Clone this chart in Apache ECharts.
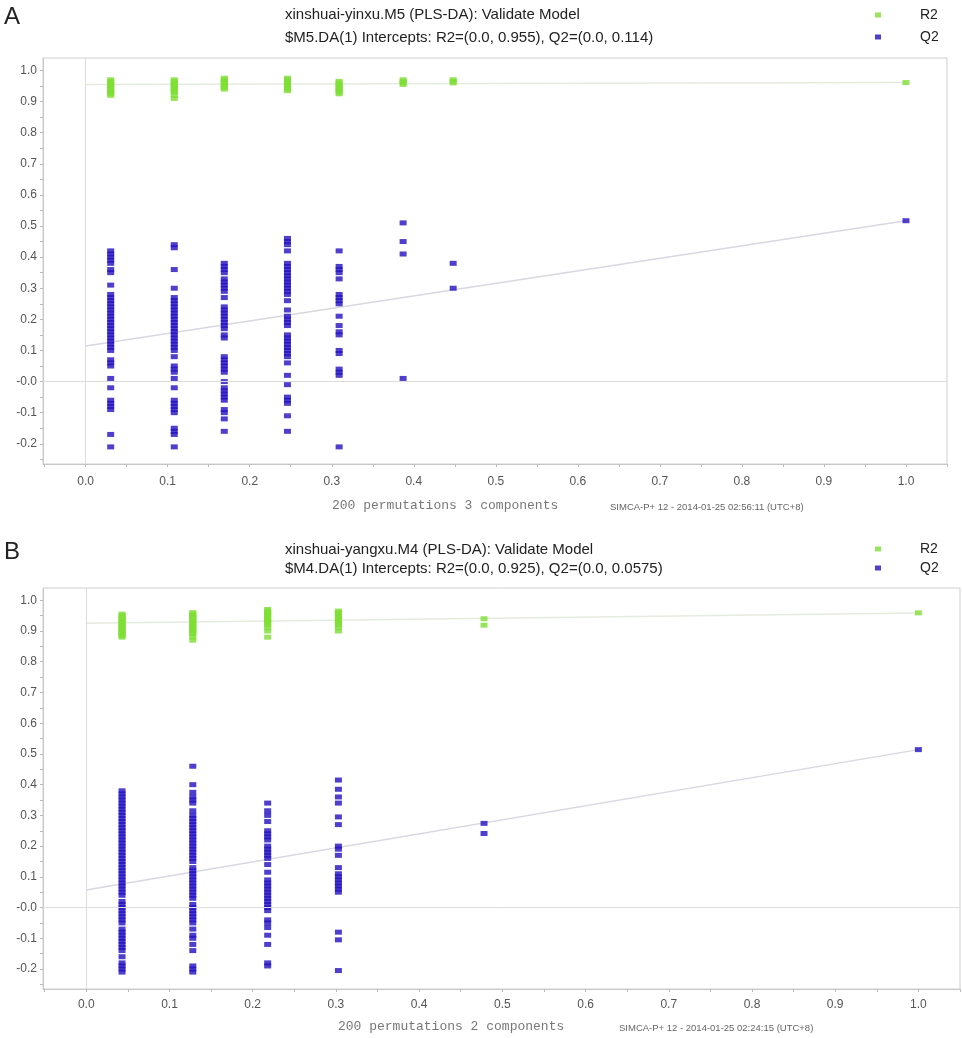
<!DOCTYPE html>
<html><head><meta charset="utf-8">
<script src="https://cdn.jsdelivr.net/npm/echarts@6/dist/echarts.min.js"></script>
<style>html,body{margin:0;padding:0;background:#fff}#c{width:962px;height:1038px}</style>
</head><body><div id="c"></div>
<script>
// ---------- tick labels ----------
const xLabelValues = [0, 0.1, 0.2, 0.3, 0.4, 0.5, 0.6, 0.7, 0.8, 0.9, 1.0];
const yLabelValues = [-0.2, -0.1, 0, 0.1, 0.2, 0.3, 0.4, 0.5, 0.6, 0.7, 0.8, 0.9, 1.0];
const xTickValues = [-0.05, 0, 0.05, 0.1, 0.15, 0.2, 0.25, 0.3, 0.35, 0.4, 0.45, 0.5, 0.55, 0.6, 0.65, 0.7, 0.75, 0.8, 0.85, 0.9, 0.95, 1.0, 1.05];
const yTickValues = [-0.25, -0.2, -0.15, -0.1, -0.05, 0, 0.05, 0.1, 0.15, 0.2, 0.25, 0.3, 0.35, 0.4, 0.45, 0.5, 0.55, 0.6, 0.65, 0.7, 0.75, 0.8, 0.85, 0.9, 0.95, 1.0];

// ---------- Panel A : xinshuai-yinxu.M5 ----------
const xA = [0.0305, 0.108, 0.169, 0.246, 0.309, 0.387, 0.448, 1.0];
const q2A = [
  [0.42,0.41,0.40,0.39,0.38,0.36,0.35,0.31,0.28,0.27,0.26,0.25,0.24,0.23,0.22,0.21,0.20,0.19,0.18,0.17,0.16,0.15,0.14,0.13,0.12,0.11,0.10,0.07,0.06,0.05,0.01,-0.02,-0.06,-0.07,-0.08,-0.09,-0.17,-0.21],
  [0.44,0.43,0.36,0.30,0.27,0.26,0.25,0.24,0.23,0.22,0.21,0.20,0.19,0.18,0.17,0.16,0.15,0.14,0.13,0.12,0.11,0.10,0.08,0.05,0.04,0.03,0.01,-0.02,-0.06,-0.07,-0.08,-0.09,-0.10,-0.15,-0.16,-0.17,-0.21],
  [0.38,0.37,0.36,0.35,0.33,0.32,0.31,0.30,0.29,0.27,0.24,0.23,0.22,0.21,0.20,0.19,0.18,0.17,0.15,0.14,0.08,0.07,0.06,0.05,0.04,0.03,0.00,-0.02,-0.03,-0.04,-0.05,-0.06,-0.09,-0.10,-0.12,-0.16],
  [0.46,0.45,0.44,0.42,0.38,0.37,0.36,0.35,0.34,0.33,0.32,0.31,0.30,0.29,0.28,0.26,0.23,0.21,0.20,0.19,0.18,0.15,0.14,0.13,0.12,0.11,0.10,0.09,0.08,0.06,0.02,-0.01,-0.05,-0.06,-0.07,-0.11,-0.16],
  [0.42,0.37,0.36,0.35,0.33,0.28,0.27,0.26,0.25,0.21,0.18,0.16,0.15,0.10,0.09,0.04,0.03,0.02,-0.21],
  [0.51,0.45,0.41,0.01],
  [0.38,0.30],
  [0.517]
];
const r2A = [
  [0.97,0.965,0.96,0.955,0.95,0.945,0.94,0.935,0.93,0.925,0.92],
  [0.97,0.965,0.96,0.955,0.95,0.945,0.94,0.935,0.93,0.92,0.91],
  [0.975,0.97,0.965,0.96,0.955,0.95,0.945,0.94],
  [0.975,0.97,0.965,0.96,0.955,0.95,0.945,0.94,0.935],
  [0.965,0.96,0.955,0.95,0.945,0.94,0.935,0.93,0.925],
  [0.97,0.965,0.96,0.955],
  [0.97,0.965,0.96],
  [0.961]
];
const interceptA = { r2: 0.955, q2: 0.114 };

// ---------- Panel B : xinshuai-yangxu.M4 ----------
const xB = [0.043, 0.128, 0.218, 0.303, 0.478, 1.0];
const q2B = [
  [0.38,0.37,0.36,0.35,0.34,0.33,0.32,0.31,0.30,0.29,0.28,0.27,0.26,0.25,0.24,0.23,0.22,0.21,0.20,0.19,0.18,0.17,0.16,0.15,0.14,0.13,0.12,0.11,0.10,0.09,0.08,0.07,0.06,0.05,0.04,0.02,0.01,0.00,-0.01,-0.02,-0.03,-0.04,-0.05,-0.07,-0.08,-0.09,-0.10,-0.11,-0.12,-0.13,-0.14,-0.16,-0.18,-0.19,-0.20,-0.21],
  [0.46,0.40,0.375,0.36,0.35,0.34,0.315,0.30,0.29,0.28,0.27,0.26,0.25,0.24,0.23,0.22,0.21,0.20,0.19,0.18,0.17,0.16,0.15,0.13,0.12,0.11,0.10,0.09,0.08,0.07,0.06,0.05,0.04,0.03,0.01,0.00,-0.01,-0.02,-0.03,-0.04,-0.05,-0.07,-0.09,-0.10,-0.12,-0.14,-0.19,-0.20,-0.21],
  [0.34,0.315,0.30,0.28,0.25,0.24,0.23,0.22,0.20,0.19,0.18,0.17,0.16,0.14,0.115,0.09,0.08,0.07,0.06,0.05,0.04,0.03,0.02,0.01,0.00,-0.01,-0.04,-0.05,-0.065,-0.09,-0.12,-0.18,-0.19],
  [0.415,0.385,0.36,0.34,0.295,0.27,0.20,0.19,0.17,0.13,0.11,0.10,0.09,0.08,0.07,0.06,0.05,-0.08,-0.105,-0.205],
  [0.274,0.241],
  [0.514]
];
const r2B = [
  [0.955,0.95,0.945,0.94,0.935,0.93,0.925,0.92,0.915,0.91,0.905,0.90,0.895,0.89,0.885,0.88],
  [0.96,0.955,0.95,0.945,0.94,0.935,0.93,0.925,0.92,0.915,0.91,0.905,0.90,0.895,0.89,0.88,0.87],
  [0.97,0.965,0.96,0.955,0.95,0.945,0.94,0.935,0.93,0.925,0.92,0.91,0.90,0.88],
  [0.965,0.96,0.955,0.95,0.945,0.94,0.935,0.93,0.925,0.92,0.91,0.90],
  [0.94,0.919],
  [0.959]
];
const interceptB = { r2: 0.925, q2: 0.0575 };

// ---------- texts ----------
const textA = {
  letter: 'A',
  title1: 'xinshuai-yinxu.M5 (PLS-DA): Validate Model',
  title2: '$M5.DA(1) Intercepts: R2=(0.0, 0.955), Q2=(0.0, 0.114)',
  perm: '200 permutations 3 components',
  stamp: 'SIMCA-P+ 12 - 2014-01-25 02:56:11 (UTC+8)'
};
const textB = {
  letter: 'B',
  title1: 'xinshuai-yangxu.M4 (PLS-DA): Validate Model',
  title2: '$M4.DA(1) Intercepts: R2=(0.0, 0.925), Q2=(0.0, 0.0575)',
  perm: '200 permutations 2 components',
  stamp: 'SIMCA-P+ 12 - 2014-01-25 02:24:15 (UTC+8)'
};

// ---------- build ----------
const GREEN = '#7ede35', BLUE = '#2210c0';
const FONT = '"Liberation Sans", Arial, sans-serif';
function pts(xs, cols) {
  const out = [];
  cols.forEach((col, i) => col.forEach(v => out.push([xs[i], v])));
  return out;
}
function fmtY(v) { return Math.abs(v) < 1e-9 ? '-0.0' : v.toFixed(1); }
function fmtX(v) { return Math.abs(v) < 1e-9 ? '0.0' : v.toFixed(1); }

const grids = [
  { left: 43, top: 58, width: 904, height: 406 },
  { left: 43, top: 588, width: 917, height: 401 }
];
function xAxisFor(i, margin) {
  return {
    type: 'value', gridIndex: i, min: -0.052, max: 1.05,
    axisLine: { show: true, onZero: false, lineStyle: { color: '#c8c8c8' } },
    axisTick: { show: true, customValues: xTickValues, length: 3, lineStyle: { color: '#bbb' } },
    axisLabel: { customValues: xLabelValues, formatter: fmtX, margin: margin, fontSize: 12, color: '#555', fontFamily: FONT },
    splitLine: { show: false }
  };
}
function yAxisFor(i) {
  return {
    type: 'value', gridIndex: i, min: -0.265, max: 1.04,
    axisLine: { show: true, onZero: false, lineStyle: { color: '#c8c8c8' } },
    axisTick: { show: true, customValues: yTickValues, length: 3, lineStyle: { color: '#bbb' } },
    axisLabel: { customValues: yLabelValues, formatter: fmtY, margin: 6, fontSize: 12, color: '#555', fontFamily: FONT },
    splitLine: { show: false }
  };
}
function panelSeries(i, xs, q2, r2, icpt) {
  const lastQ = q2[q2.length - 1][0], lastR = r2[r2.length - 1][0];
  return [
    { name: 'R2 fit', type: 'line', xAxisIndex: i, yAxisIndex: i, silent: true, symbol: 'none', z: 1,
      lineStyle: { color: '#e6ebe0', width: 1.5 }, data: [[0, icpt.r2], [1, lastR]] },
    { name: 'Q2 fit', type: 'line', xAxisIndex: i, yAxisIndex: i, silent: true, symbol: 'none', z: 1,
      lineStyle: { color: '#d8d8e0', width: 1.5 }, data: [[0, icpt.q2], [1, lastQ]],
      markLine: { silent: true, symbol: 'none', label: { show: false },
        lineStyle: { color: '#dcdcdc', width: 1, type: 'solid' },
        data: [{ yAxis: 0 }, { xAxis: 0 }] } },
    { name: 'R2', type: 'scatter', xAxisIndex: i, yAxisIndex: i, symbol: 'rect', symbolSize: [7, 5], z: 3,
      itemStyle: { color: GREEN }, data: pts(xs, r2) },
    { name: 'Q2', type: 'scatter', xAxisIndex: i, yAxisIndex: i, symbol: 'rect', symbolSize: [7, 5], z: 4,
      itemStyle: { color: BLUE }, data: pts(xs, q2) }
  ];
}
function panelTitles(t, y1, y2) {
  return [
    { text: t.letter, left: 4, top: y1 - 9, padding: 0, textStyle: { fontFamily: FONT, fontSize: 24, fontWeight: 'normal', color: '#222' } },
    { text: t.title1, left: 285, top: y1 - 7, padding: 0, textStyle: { fontFamily: FONT, fontSize: 15, fontWeight: 'normal', color: '#222' } },
    { text: t.title2, left: 285, top: y2 - 7, padding: 0, textStyle: { fontFamily: FONT, fontSize: 15, fontWeight: 'normal', color: '#222' } }
  ];
}
function bottomTitles(t, y, xp, xs) {
  return [
    { text: t.perm, left: xp, top: y, padding: 0, textStyle: { fontFamily: '"Liberation Mono", monospace', fontSize: 13, fontWeight: 'normal', color: '#777' } },
    { text: t.stamp, left: xs, top: y + 3, padding: 0, textStyle: { fontFamily: FONT, fontSize: 9.5, fontWeight: 'normal', color: '#666' } }
  ];
}
function legendFor(top, gap) {
  return {
    orient: 'vertical', left: 875, top: top, padding: 0, itemWidth: 6, itemHeight: 5, itemGap: gap, icon: 'rect',
    data: ['R2', 'Q2'], selectedMode: false,
    textStyle: { fontFamily: FONT, fontSize: 14, color: '#222', padding: [0, 0, 0, 34], lineHeight: 14 }
  };
}

const option = {
  backgroundColor: '#fff',
  animation: false,
  title: [].concat(
    panelTitles(textA, 14, 37), bottomTitles(textA, 499, 332, 610),
    panelTitles(textB, 549, 568), bottomTitles(textB, 1020, 338, 619)
  ),
  legend: [legendFor(8, 8), legendFor(542, 5)],
  grid: grids.map(g => Object.assign({ show: true, borderColor: '#cfcfcf', borderWidth: 1 }, g)),
  xAxis: [xAxisFor(0, 12), xAxisFor(1, 10)],
  yAxis: [yAxisFor(0), yAxisFor(1)],
  series: [].concat(
    panelSeries(0, xA, q2A, r2A, interceptA),
    panelSeries(1, xB, q2B, r2B, interceptB)
  )
};
echarts.init(document.getElementById('c'), null, { renderer: 'canvas' }).setOption(option);
</script>
</body></html>
